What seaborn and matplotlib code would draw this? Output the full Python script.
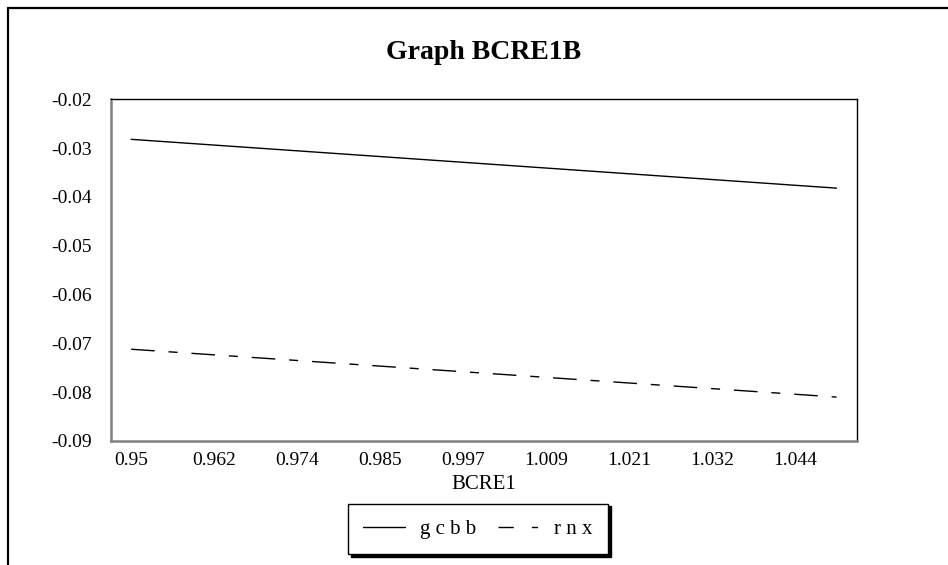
import numpy as np
import pandas as pd
import matplotlib
matplotlib.use("Agg")
import matplotlib.pyplot as plt
from matplotlib.lines import Line2D
import seaborn as sns

# Series values along BCRE1
bcre1 = [0.95, 1.0, 1.05]
gcbb = [-0.0282, -0.0332, -0.0382]
rnx = [-0.0712, -0.0761, -0.0810]
series_names = ["g c b b", "r n x"]

# Tick positions / labels
x_ticks = [0.95 + k * 0.1 / 8.5 for k in range(9)]
x_tick_labels = ["0.95", "0.962", "0.974", "0.985", "0.997", "1.009", "1.021", "1.032", "1.044"]
y_ticks = [-0.09, -0.08, -0.07, -0.06, -0.05, -0.04, -0.03, -0.02]
y_tick_labels = ["-0.09", "-0.08", "-0.07", "-0.06", "-0.05", "-0.04", "-0.03", "-0.02"]

df = pd.DataFrame({
    "BCRE1": bcre1 * 2,
    "value": gcbb + rnx,
    "series": [series_names[0]] * len(bcre1) + [series_names[1]] * len(bcre1),
})

sns.set_theme(style="white")
plt.rcParams["font.family"] = ["Liberation Serif", "DejaVu Serif"]
plt.rcParams["text.color"] = "black"
plt.rcParams["axes.labelcolor"] = "black"

W, H = 948, 565
fig = plt.figure(figsize=(W / 100, H / 100), dpi=100)
fig.patch.set_facecolor("white")

# outer frame (top and left edges)
fig.add_artist(Line2D([8 / W, 8 / W], [0, 1 - 8 / H], transform=fig.transFigure, color="black", lw=1.6))
fig.add_artist(Line2D([8 / W, 1], [1 - 8 / H, 1 - 8 / H], transform=fig.transFigure, color="black", lw=1.6))

ax = fig.add_axes([110.7 / W, 1 - 441 / H, (857 - 110.7) / W, (441 - 99.3) / H])

dash_pattern = (17, 10, 6.5, 10)
sns.lineplot(data=df, x="BCRE1", y="value", hue="series", style="series",
             palette=["black", "black"], dashes=["", dash_pattern],
             linewidth=1.0, ax=ax, legend=False)

ax.set_xlim(0.9471, 1.0529)
ax.set_ylim(-0.09, -0.02)
ax.set_xticks(x_ticks)
ax.set_xticklabels(x_tick_labels)
ax.set_yticks(y_ticks)
ax.set_yticklabels(y_tick_labels)
ax.tick_params(axis="both", length=0, labelsize=14, colors="black")
ax.tick_params(axis="y", pad=13.5)
ax.tick_params(axis="x", pad=8)
ax.set_xlabel("BCRE1", fontsize=15, labelpad=4.5)
ax.set_ylabel("")
ax.set_title("Graph BCRE1B", fontsize=20, fontweight="bold", pad=29, color="black")

for side in ["left", "bottom"]:
    ax.spines[side].set_color("#808080")
    ax.spines[side].set_linewidth(1.8)
for side in ["top", "right"]:
    ax.spines[side].set_color("black")
    ax.spines[side].set_linewidth(1.0)

handles = [
    Line2D([], [], color="black", lw=1.0),
    Line2D([], [], color="black", lw=1.0, linestyle=(0, (11, 13, 4.5, 10))),
]
leg = fig.legend(handles, series_names, loc="center", ncol=2,
                 bbox_to_anchor=(478 / W, 1 - 529 / H), fontsize=15,
                 frameon=True, fancybox=False, shadow={"color": "black", "alpha": 1},
                 handlelength=2.0, handletextpad=0.7, columnspacing=1.05,
                 borderpad=0.75, borderaxespad=0)
leg.get_frame().set_edgecolor("black")
leg.get_frame().set_linewidth(1.0)

fig.savefig("out.png", dpi=100, facecolor="white")
